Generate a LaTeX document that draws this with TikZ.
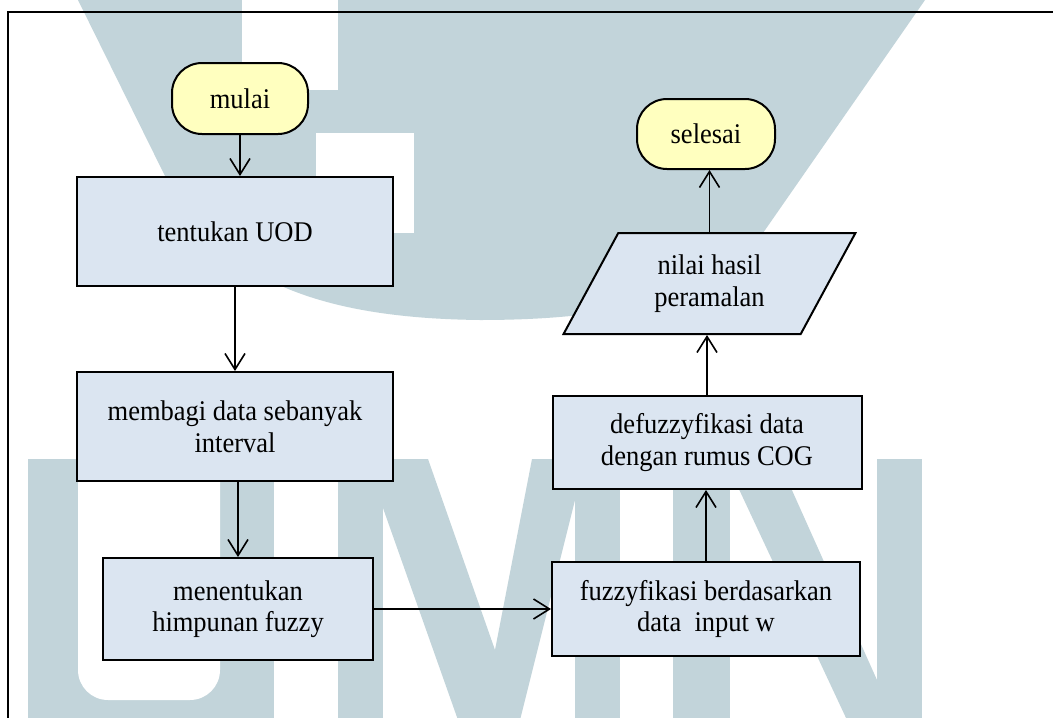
\documentclass[tikz,border=0pt]{standalone}
\usepackage{fontspec}
\setmainfont{Liberation Serif}[FakeStretch=0.93]
\usetikzlibrary{arrows.meta,shapes.geometric}
\definecolor{boxfill}{HTML}{DBE5F1}
\definecolor{termfill}{HTML}{FFFFBF}
\definecolor{wmark}{HTML}{C2D4DA}
\begin{document}
\begin{tikzpicture}[x=1pt,y=-1pt,
  font=\fontsize{28.5}{31.5}\selectfont,
  process/.style={draw, line width=2pt, fill=boxfill, align=center, inner sep=0pt},
  terminal/.style={draw, line width=2pt, fill=termfill, rounded corners=30pt, align=center, inner sep=0pt},
  datashape/.style={draw, line width=2pt, fill=boxfill, align=center, inner sep=0pt,
    trapezium, trapezium left angle=60, trapezium right angle=120, trapezium stretches=true},
  flow/.style={line width=1.6pt, -{Straight Barb[length=16pt,width=20pt,line width=1.6pt]}},
  mark/.style={fill=wmark}]
\useasboundingbox (0,0) rectangle (1053,718);
\fill[white] (0,0) rectangle (1053,718);

% watermark logo in the background
\fill[wmark] (78,0) -- (165,176) .. controls (215,270) and (300,318) .. (480,320)
  .. controls (650,320) and (725,285) .. (763,233) -- (925,0) -- cycle;
\fill[white] (242,0) rectangle (338,90);
\fill[white] (316,133) rectangle (414,233);
% U
\fill[wmark] (28,459) rectangle (274,720);
\fill[white, rounded corners=30pt] (78,440) -- (78,700) -- (220,700) -- (220,440) -- cycle;
% M
\fill[wmark] (338,459) rectangle (383,720);
\fill[wmark] (575,459) rectangle (620,720);
\fill[wmark] (383,459) -- (428,459) -- (495,650) -- (532,459) -- (575,459) -- (575,500)
  -- (520,720) -- (458,720) -- (383,508) -- cycle;
% N
\fill[wmark] (673,459) rectangle (730,720);
\fill[wmark] (877,459) rectangle (922,720);
\fill[wmark] (730,459) -- (778,459) -- (877,680) -- (877,720) -- (847,720) -- (730,470) -- cycle;

% page frame
\draw[line width=1.5pt] (8,720) -- (8,12) -- (1055,12);

% flowchart
\node[terminal, minimum width=136pt, minimum height=71pt] (mulai) at (240,98.5) {mulai};
\node[process, minimum width=316pt, minimum height=109pt] (uod) at (235,231.5) {tentukan UOD};
\node[process, minimum width=316pt, minimum height=109pt] (bagi) at (235,426.5) {membagi data sebanyak\\interval};
\node[process, minimum width=270pt, minimum height=102pt] (himp) at (238,609) {menentukan\\himpunan fuzzy};
\node[process, minimum width=308pt, minimum height=94pt] (fuzz) at (706,609) {fuzzyfikasi berdasarkan\\data\ \ input w};
\node[process, minimum width=309pt, minimum height=93pt] (defuzz) at (707,442.5) {defuzzyfikasi data\\dengan rumus COG};
\node[datashape, minimum width=292pt, minimum height=101pt] (hasil) at (709.5,283.5) {nilai hasil\\peramalan};
\node[terminal, minimum width=138pt, minimum height=70pt] (selesai) at (706,134) {selesai};

\draw[flow] (mulai.south) -- (mulai.south |- uod.north);
\draw[flow] (uod.south) -- (uod.south |- bagi.north);
\draw[flow] (himp.north |- bagi.south) -- (himp.north);
\draw[flow] (himp.east) -- (himp.east -| fuzz.west);
\draw[flow] (fuzz.north) -- (fuzz.north |- defuzz.south);
\draw[flow] (defuzz.north) -- (defuzz.north |- hasil.south);
\draw[flow] (hasil.north) -- (hasil.north |- selesai.south);
\end{tikzpicture}
\end{document}
